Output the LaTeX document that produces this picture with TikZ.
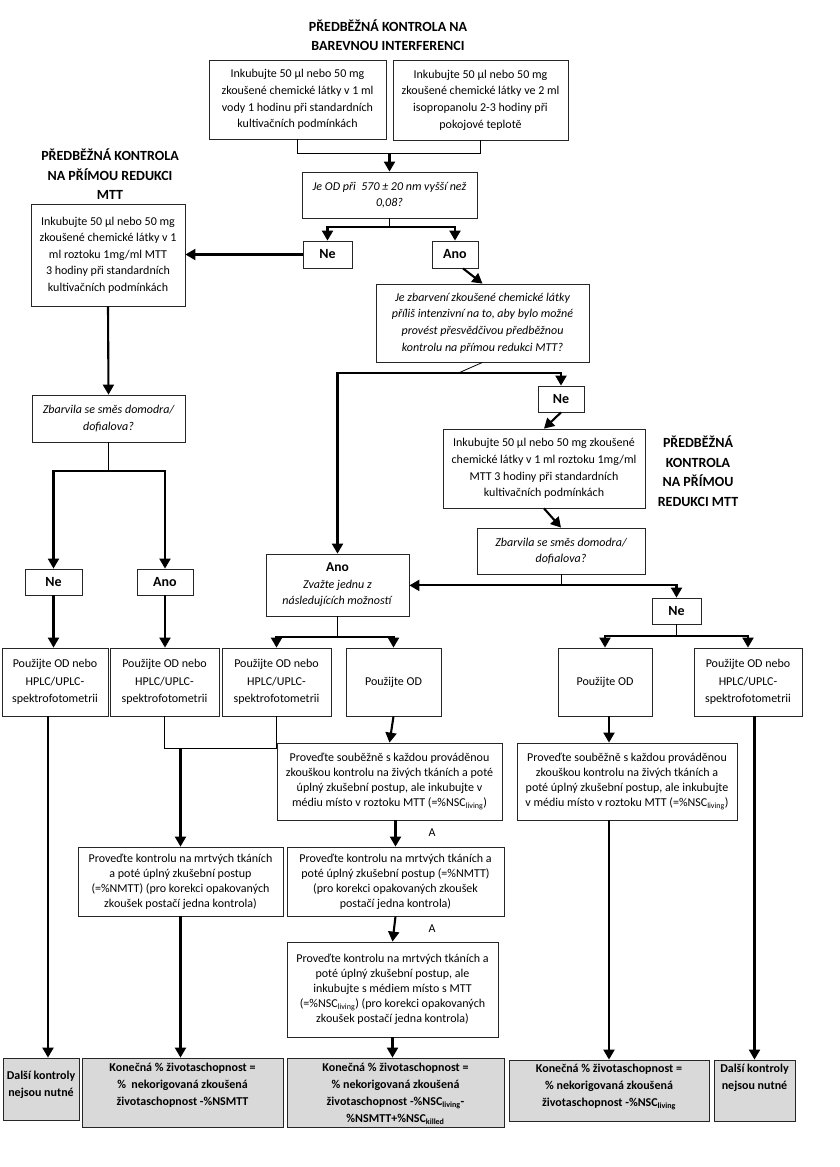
\documentclass[tikz,border=0pt]{standalone}
\usepackage{fontspec}
\setmainfont{Carlito}
\usetikzlibrary{arrows.meta,calc}
\begin{document}
\begin{tikzpicture}[x=1pt,y=-1pt,
  bx/.style={draw=black!85, line width=0.8pt, align=center, inner sep=1pt, font=\fontsize{12}{16.6}\selectfont},
  cbx/.style={bx, font=\fontsize{12}{17.4}\selectfont},
  dbx/.style={bx, font=\fontsize{12}{15}\selectfont},
  qbx/.style={bx, font=\itshape\fontsize{12}{16.6}\selectfont},
  lbx/.style={bx, font=\bfseries\fontsize{14}{16}\selectfont},
  fbx/.style={draw=black!85, line width=0.8pt, fill=black!15},
  ftx/.style={align=center, inner sep=0pt, anchor=north, font=\bfseries\fontsize{12}{17}\selectfont},
  ttl/.style={align=center, inner sep=0pt, font=\bfseries\fontsize{14}{19.6}\selectfont},
  atx/.style={inner sep=0pt, font=\fontsize{12}{14}\selectfont},
  sz/.style 2 args={minimum width=#1pt, minimum height=#2pt},
  arr/.style={line width=2.1pt, -{Triangle[width=11pt,length=10pt]}},
  thn/.style={line width=0.8pt},
]
\useasboundingbox (0,0) rectangle (840,1167);

% titles
\node[ttl] (t1) at (388,35) {PŘEDBĚŽNÁ KONTROLA NA\\BAREVNOU INTERFERENCI};
\node[ttl] (t2) at (110,174.5) {PŘEDBĚŽNÁ KONTROLA\\NA PŘÍMOU REDUKCI\\MTT};
\node[ttl] (t3) at (698,471) {PŘEDBĚŽNÁ\\KONTROLA\\NA PŘÍMOU\\REDUKCI MTT};

% boxes
\node[bx, sz={177}{79}] (a1) at (297.5,99.5) {Inkubujte 50 µl nebo 50 mg\\zkoušené chemické látky v 1 ml\\vody 1 hodinu při standardních\\kultivačních podmínkách};
\node[bx, sz={175}{80}] (a2) at (480.5,100) {Inkubujte 50 µl nebo 50 mg\\zkoušené chemické látky ve 2 ml\\isopropanolu 2-3 hodiny při\\pokojové teplotě};
\node[qbx, sz={175}{46}] (q1) at (389.5,195) {Je OD při~ 570 ± 20 nm vyšší než\\0,08?};
\node[lbx, sz={49}{27}] (ne1) at (327.5,254.5) {Ne};
\node[lbx, sz={46}{27}] (ano1) at (455,254.5) {Ano};
\node[bx, sz={154}{102}] (b1) at (108,255) {Inkubujte 50 µl nebo 50 mg\\zkoušené chemické látky v 1\\ml roztoku 1mg/ml MTT\\3 hodiny při standardních\\kultivačních podmínkách};
\node[qbx, sz={153}{47}] (q2) at (108.5,418.5) {Zbarvila se směs domodra/\\dofialova?};
\node[lbx, sz={57}{26}] (ne2) at (53.5,582) {Ne};
\node[lbx, sz={56}{26}] (ano2) at (165,582) {Ano};
\node[qbx, sz={213}{78}] (q3) at (482.5,323) {Je zbarvení zkoušené chemické látky\\příliš intenzivní na to, aby bylo možné\\provést přesvědčivou předběžnou\\kontrolu na přímou redukci MTT?};
\node[lbx, sz={46}{26}] (ne3) at (561,399) {Ne};
\node[bx, sz={202}{79}] (b2) at (544,468.5) {Inkubujte 50 µl nebo 50 mg zkoušené\\chemické látky v 1 ml roztoku 1mg/ml\\MTT 3 hodiny při standardních\\kultivačních podmínkách};
\node[qbx, sz={168}{46}] (q4) at (561,551) {Zbarvila se směs domodra/\\dofialova?};
\node[bx, sz={143}{62}] (ano3) at (337.5,585) {{\bfseries\fontsize{13.5}{16}\selectfont Ano}\\\textit{Zvažte jednu z}\\\textit{následujících možností}};
\node[lbx, sz={49}{26}] (ne4) at (676.5,611) {Ne};

\node[cbx, sz={106}{68}] (c1) at (55,682) {Použijte OD nebo\\HPLC/UPLC-\\spektrofotometrii};
\node[cbx, sz={109}{68}] (c2) at (164.5,682) {Použijte OD nebo\\HPLC/UPLC-\\spektrofotometrii};
\node[cbx, sz={109}{68}] (c3) at (276.5,682) {Použijte OD nebo\\HPLC/UPLC-\\spektrofotometrii};
\node[cbx, sz={95}{68}] (c4) at (393.5,682) {Použijte OD};
\node[cbx, sz={94}{68}] (c5) at (605,682) {Použijte OD};
\node[cbx, sz={108}{68}] (c6) at (748,682) {Použijte OD nebo\\HPLC/UPLC-\\spektrofotometrii};

\node[dbx, sz={225}{77}] (d1) at (389.5,781.5) {Proveďte souběžně s každou prováděnou\\zkouškou kontrolu na živých tkáních a poté\\úplný zkušební postup, ale inkubujte v\\médiu místo v roztoku MTT (=\%NSC\textsubscript{living})};
\node[dbx, sz={220}{77}] (d2) at (627,781.5) {Proveďte souběžně s každou prováděnou\\zkouškou kontrolu na živých tkáních a\\poté úplný zkušební postup, ale inkubujte\\v médiu místo v roztoku MTT (=\%NSC\textsubscript{living})};

\node[dbx, sz={205}{69}] (e1) at (180.5,881.5) {Proveďte kontrolu na mrtvých tkáních\\a poté úplný zkušební postup\\(=\%NMTT) (pro korekci opakovaných\\zkoušek postačí jedna kontrola)};
\node[dbx, sz={217}{69}] (e2) at (395.5,881.5) {Proveďte kontrolu na mrtvých tkáních a\\poté úplný zkušební postup (=\%NMTT)\\(pro korekci opakovaných zkoušek\\postačí jedna kontrola)};
\node[dbx, sz={211}{95}] (e3) at (392.5,989.5) {Proveďte kontrolu na mrtvých tkáních a\\poté úplný zkušební postup, ale\\inkubujte s médiem místo s MTT\\(=\%NSC\textsubscript{living}) (pro korekci opakovaných\\zkoušek postačí jedna kontrola)};

\node[fbx, sz={76}{62}] (f1) at (41,1089) {};
\node[fbx, sz={201}{69}] (f2) at (182.5,1092.5) {};
\node[fbx, sz={217}{69}] (f3) at (395.5,1092.5) {};
\node[fbx, sz={200}{61}] (f4) at (609,1090.5) {};
\node[fbx, sz={81}{61}] (f5) at (754.5,1090.5) {};
\node[ftx] (f1t) at ($(f1.north)+(0,13)$) {Další kontroly\\nejsou nutné};
\node[ftx] (f2t) at ($(f2.north)+(0,5.5)$) {Konečná \% životaschopnost =\\\%~ nekorigovaná zkoušená\\životaschopnost -\%NSMTT};
\node[ftx] (f3t) at ($(f3.north)+(0,5.5)$) {Konečná \% životaschopnost =\\\% nekorigovaná zkoušená\\životaschopnost -\%NSC\textsubscript{living}-\\\%NSMTT+\%NSC\textsubscript{killed}};
\node[ftx] (f4t) at ($(f4.north)+(0,4.5)$) {Konečná \% životaschopnost =\\\% nekorigovaná zkoušená\\životaschopnost -\%NSC\textsubscript{living}};
\node[ftx] (f5t) at ($(f5.north)+(0,4.5)$) {Další kontroly\\nejsou nutné};

% connectors
\draw[thn] (a1.south) -- ++(0,14) coordinate (j1) -| (a2.south);
\draw[arr] (q1.north |- j1) -- (q1.north);
\draw[thn] (q1.south) -- ++(0,9) coordinate (j2);
\draw[arr] (j2) -| (ne1.north);
\draw[arr] (j2) -| (ano1.north);
\draw[arr] (ne1.west) -- (ne1.west -| b1.east);
\draw[arr] ($(ano1.south)+(8,0)$) -- (q3.north);
\draw[thn] (q3.south) -- ++(-25,11) coordinate (j3);
\draw[arr] (j3) -| (ne3.north);
\draw[arr] (j3) -| (ano3.north);
\draw[arr] (ne3.south) -- (b2.north);
\draw[arr] (b2.south) -- (q4.north);
\draw[thn] (q4.south) -- ++(0,11) coordinate (j4);
\draw[arr] (j4) -- (j4 -| ano3.east);
\draw[arr] (j4) -| (ne4.north);

\draw[arr] (b1.south) -- (q2.north);
\draw[thn] (q2.south) -- ++(0,29) coordinate (j5);
\draw[arr] (j5) -| (ne2.north);
\draw[arr] (j5) -| (ano2.north);
\draw[arr] (ne2.south) -- (ne2.south |- c1.north);
\draw[arr] (ano2.south) -- (ano2.south |- c2.north);

\draw[thn] (ano3.south) -- ++(0,21) coordinate (j6);
\draw[arr] (j6) -| (c3.north);
\draw[arr] (j6) -| (c4.north);
\draw[thn] (ne4.south) -- ++(0,12) coordinate (j7);
\draw[arr] (j7) -| (c5.north);
\draw[arr] (j7) -| (c6.north);

\draw[thn] (c2.south) -- ++(0,32) coordinate (j8) -| (c3.south);
\draw[arr] (e1.north |- j8) -- (e1.north);
\draw[arr] (c4.south) -- (d1.north);
\draw[arr] (e2.north |- d1.south) -- (e2.north);
\draw[arr] (e2.south) -- (e3.north);
\draw[arr] (e3.south) -- (e3.south |- f3.north);
\draw[arr] (e1.south) -- (e1.south |- f2.north);
\draw[arr] ($(c1.south)+(-7,0)$) -- ($(c1.south |- f1.north)+(-7,0)$);
\draw[arr] (c5.south -| f4.north) -- (d2.north -| f4.north);
\draw[arr] (d2.south -| f4.north) -- (f4.north);
\draw[arr] (f5.north |- c6.south) -- (f5.north);

\node[atx] (la1) at (432,833) {A};
\node[atx] (la2) at (432,929) {A};
\end{tikzpicture}
\end{document}
